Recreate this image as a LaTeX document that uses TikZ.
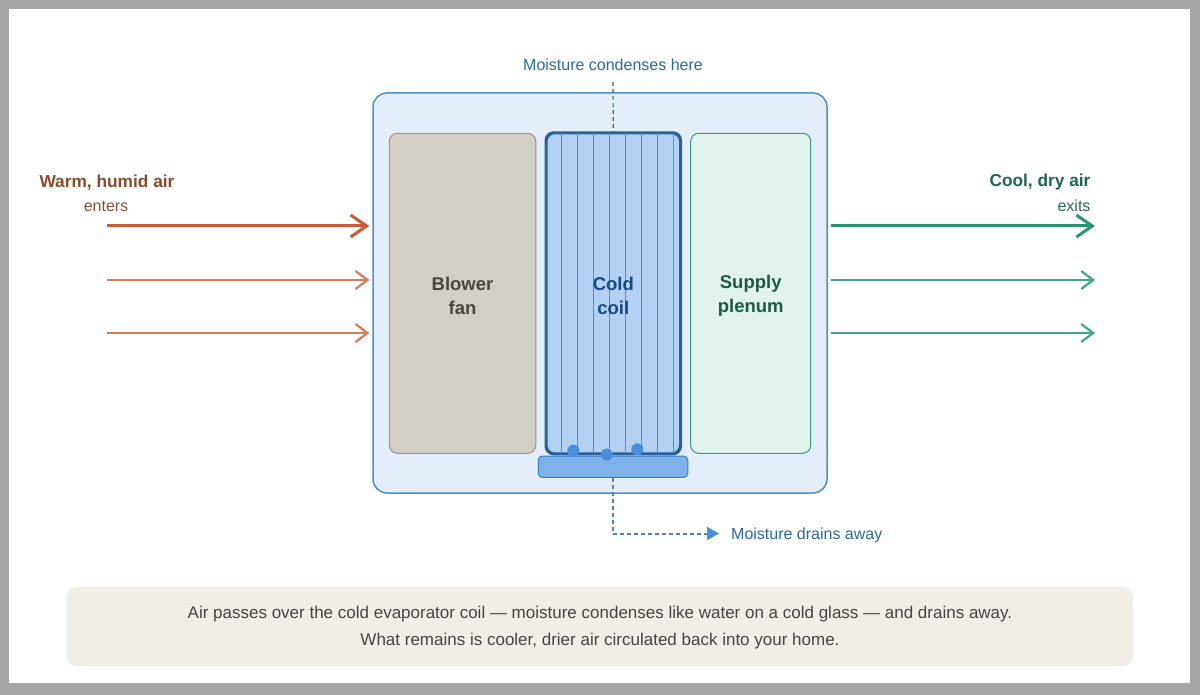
\documentclass[tikz,border=0pt]{standalone}
\usepackage{fontspec}
\setmainfont{Liberation Sans}
\usetikzlibrary{arrows.meta,calc}
\definecolor{frame}{HTML}{A6A6A6}
\definecolor{boxfill}{HTML}{E4EEF9}
\definecolor{boxline}{HTML}{4F8FC6}
\definecolor{fanfill}{HTML}{D3CFC7}
\definecolor{fanline}{HTML}{9A968F}
\definecolor{fantext}{HTML}{4A4640}
\definecolor{coilfill}{HTML}{B3D1F2}
\definecolor{coilline}{HTML}{2B5F99}
\definecolor{coilstripe}{HTML}{5A8CC8}
\definecolor{coiltext}{HTML}{1A4A80}
\definecolor{plenfill}{HTML}{E0F3EC}
\definecolor{plenline}{HTML}{3A9A78}
\definecolor{plentext}{HTML}{1F5A45}
\definecolor{panfill}{HTML}{7FB2EA}
\definecolor{panline}{HTML}{3F7CC4}
\definecolor{drop}{HTML}{4A8DDB}
\definecolor{drainline}{HTML}{4F82B8}
\definecolor{note}{HTML}{2A6A98}
\definecolor{warm}{HTML}{CC5A35}
\definecolor{warmlt}{HTML}{D77A5A}
\definecolor{warmtext}{HTML}{8A4A30}
\definecolor{cool}{HTML}{2A9470}
\definecolor{coollt}{HTML}{44A584}
\definecolor{cooltext}{HTML}{1F6650}
\definecolor{capfill}{HTML}{F1EEE7}
\definecolor{captext}{HTML}{444444}
\tikzset{
  part/.style={draw, rounded corners=8pt, line width=1pt, minimum width=#1, minimum height=320pt, inner sep=0pt},
  partlabel/.style={font=\fontsize{18.5}{24}\selectfont\bfseries, align=center},
  bigflow/.style={-{Straight Barb[length=16pt,width=22pt]}, line width=3pt},
  smallflow/.style={-{Straight Barb[length=12pt,width=18pt]}, line width=2.2pt},
  smalltext/.style={font=\fontsize{16}{18}\selectfont},
  headtext/.style={font=\fontsize{17.3}{20}\selectfont\bfseries},
}
\begin{document}
\begin{tikzpicture}[x=1pt,y=-1pt]
% frame
\fill[frame] (0,0) rectangle (1200,695);
\fill[white] (9,9) rectangle (1190,683);
\useasboundingbox (0,0) rectangle (1200,695);

% main housing
\node[draw=boxline, fill=boxfill, line width=1.5pt, rounded corners=14pt,
  minimum width=454pt, minimum height=400pt, inner sep=0pt] (box) at (600,293) {};

% blower fan
\node[part=146.5pt, draw=fanline, fill=fanfill] (fan) at (462.5,293.3) {};
\node[partlabel, text=fantext] (fanlbl) at (462.5,295.5) {Blower\\fan};

% cold coil
\node[part=133.5pt, draw=coilline, fill=coilfill, line width=2pt] (coil) at (613.3,293.3) {};
\foreach \i in {1,...,8}
  \draw[coilstripe, line width=0.9pt] ($(coil.north west)+(16*\i,1)$) -- ($(coil.south west)+(16*\i,-1)$);
\draw[coilline, line width=2pt, rounded corners=8pt] (coil.north west) rectangle (coil.south east);
\node[partlabel, text=coiltext] (coillbl) at (613.3,295.5) {Cold\\coil};

% supply plenum
\node[part=120pt, draw=plenline, fill=plenfill] (plen) at (750.7,293.3) {};
\node[partlabel, text=plentext] (plenlbl) at (750.7,295.5) {Supply\\plenum};

% drain pan
\node[draw=panline, fill=panfill, line width=1pt, rounded corners=4pt,
  minimum width=149.5pt, minimum height=21.3pt, inner sep=0pt] (pan) at (613,466.7) {};
\fill[drop] (573.3,450.7) circle (6pt);
\fill[drop] (606.7,454.5) circle (6pt);
\fill[drop] (637.3,449.3) circle (6pt);

% condense note
\node[smalltext, text=note] (cond) at (613,65) {Moisture condenses here};
\draw[note, line width=1.2pt, dash pattern=on 4pt off 3pt] (613,82) -- (coil.north);

% drain note
\node[smalltext, text=note, anchor=west, inner sep=0pt] (drain) at (731,535) {Moisture drains away};
\coordinate (bend) at (613,533.5);
\draw[drainline, line width=2pt, dash pattern=on 4pt off 3pt] (pan.south) -- (bend) -- ($(bend -| drain.west)+(-24,0)$);
\draw[drop, -{Triangle[length=12pt,width=13pt]}, line width=1pt] ($(bend -| drain.west)+(-25,0)$) -- ($(bend -| drain.west)+(-12,0)$);

% inflow
\node[headtext, text=warmtext] (warmlbl) at (107,182.5) {Warm, humid air};
\node[smalltext, text=warmtext!85!gray] (enters) at (106,206) {enters};
\coordinate (w1) at (107,226);
\coordinate (w2) at (107,280);
\coordinate (w3) at (107,333);
\draw[bigflow, warm] (w1) -- ($(w1 -| box.west)+(-3,0)$);
\draw[smallflow, warmlt] (w2) -- ($(w2 -| box.west)+(-3,0)$);
\draw[smallflow, warmlt] (w3) -- ($(w3 -| box.west)+(-3,0)$);

% outflow
\node[headtext, text=cooltext, anchor=east] (coollbl) at (1094,182.5) {Cool, dry air};
\node[smalltext, text=cooltext!85!gray, anchor=east] (exits) at (1094,206) {exits};
\coordinate (e1) at (1095,226);
\coordinate (e2) at (1095,280);
\coordinate (e3) at (1095,333);
\draw[bigflow, cool] (e1 -| box.east) ++(3,0) -- (e1);
\draw[smallflow, coollt] (e2 -| box.east) ++(3,0) -- (e2);
\draw[smallflow, coollt] (e3 -| box.east) ++(3,0) -- (e3);

% caption
\node[fill=capfill, rounded corners=10pt, minimum width=1066pt, minimum height=79pt, inner sep=0pt] (cap) at (600,626.5) {};
\node[text=captext, align=center, font=\fontsize{17}{27}\selectfont] (captxt) at (600,627.5) {Air passes over the cold evaporator coil — moisture condenses like water on a cold glass — and drains away.\\What remains is cooler, drier air circulated back into your home.};
\end{tikzpicture}
\end{document}
